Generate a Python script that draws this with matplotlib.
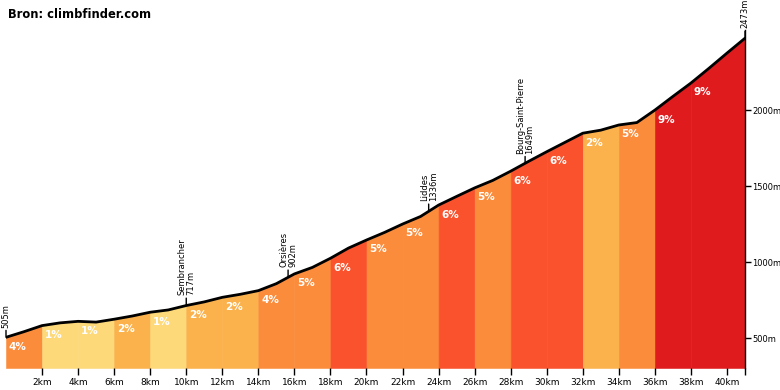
import matplotlib.pyplot as plt
import numpy as np

# profile, one point per km
dist = list(range(0, 42))
elev = [505, 542, 582, 600, 610, 605, 624, 645, 670, 685,
        714, 738, 768, 788, 812, 858, 922, 965, 1025, 1092,
        1145, 1195, 1250, 1300, 1375, 1432, 1488, 1537, 1598, 1663,
        1726, 1787, 1848, 1868, 1902, 1918, 2000, 2090, 2178, 2275,
        2375, 2473]

seg_start = [0, 2, 4, 6, 8, 10, 12, 14, 16, 18, 20, 22, 24, 26, 28, 30, 32, 34, 36, 38]
seg_end = [2, 4, 6, 8, 10, 12, 14, 16, 18, 20, 22, 24, 26, 28, 30, 32, 34, 36, 38, 41]
seg_grade = [4, 1, 1, 2, 1, 2, 2, 4, 5, 6, 5, 5, 6, 5, 6, 6, 2, 5, 9, 9]

places = ["Sembrancher", "Orsières", "Liddes", "Bourg-Saint-Pierre"]
place_km = [10.0, 15.65, 23.45, 28.8]
place_elev = [717, 902, 1336, 1649]

y_ticks = [500, 1000, 1500, 2000]
x_ticks = list(range(2, 41, 2))


def grade_color(g):
    if g <= 1:
        return "#FDD97A"
    if g <= 3:
        return "#FBB24D"
    if g <= 5:
        return "#FB8C3C"
    if g <= 8:
        return "#F9522D"
    return "#E01B1E"


fig = plt.figure(figsize=(7.8, 3.9), dpi=100)
ax = fig.add_axes([6 / 780, 22 / 390, 739 / 780, 338 / 390])

x = np.array(dist, dtype=float)
y = np.array(elev, dtype=float)
ymin = 303

for s, e, g in zip(seg_start, seg_end, seg_grade):
    m = (x >= s) & (x <= e)
    c = grade_color(g)
    ax.fill_between(x[m], ymin, y[m], facecolor=c, edgecolor=c, lw=0.4, zorder=1)
    ys = np.interp(s, x, y)
    ax.text(s + 0.65, ys - 62, f"{g}%", color="white", fontsize=7.5,
            fontweight="bold", ha="center", va="center", zorder=3)

ax.plot(x, y, color="black", lw=2, solid_capstyle="round", zorder=4)

# named places + start / finish
marks = [(0, elev[0], f"{elev[0]}m")]
for n, k, h in zip(places, place_km, place_elev):
    marks.append((k, h, f"{n}\n{h}m"))
marks.append((dist[-1], elev[-1], f"{elev[-1]}m"))
for k, h, lab in marks:
    ax.annotate(lab, xy=(k, h), xytext=(0, 7), textcoords="offset points",
                rotation=90, ha="center", va="bottom", multialignment="left",
                fontsize=6, linespacing=1.0, annotation_clip=False,
                arrowprops=dict(arrowstyle="-", color="black", lw=1,
                                shrinkA=0, shrinkB=0))

ax.set_xlim(0, 41)
ax.set_ylim(ymin, 2527)
ax.set_xticks(x_ticks)
ax.set_xticklabels([f"{t}km" for t in x_ticks])
ax.set_xticks([41], minor=True)
ax.set_yticks(y_ticks)
ax.set_yticklabels([f"{t}m" for t in y_ticks])
ax.yaxis.tick_right()
ax.tick_params(axis="x", which="both", length=5, width=1, labelsize=6.5, pad=2)
ax.tick_params(axis="y", length=4, width=1, labelsize=6, pad=1)

for side in ["left", "top", "bottom"]:
    ax.spines[side].set_visible(False)
ax.spines["right"].set_linewidth(1)

fig.text(8 / 780, 1 - 14 / 390, "Bron: climbfinder.com", fontsize=8.3,
         fontweight="bold", ha="left", va="center")

fig.savefig("out.png", dpi=100)
